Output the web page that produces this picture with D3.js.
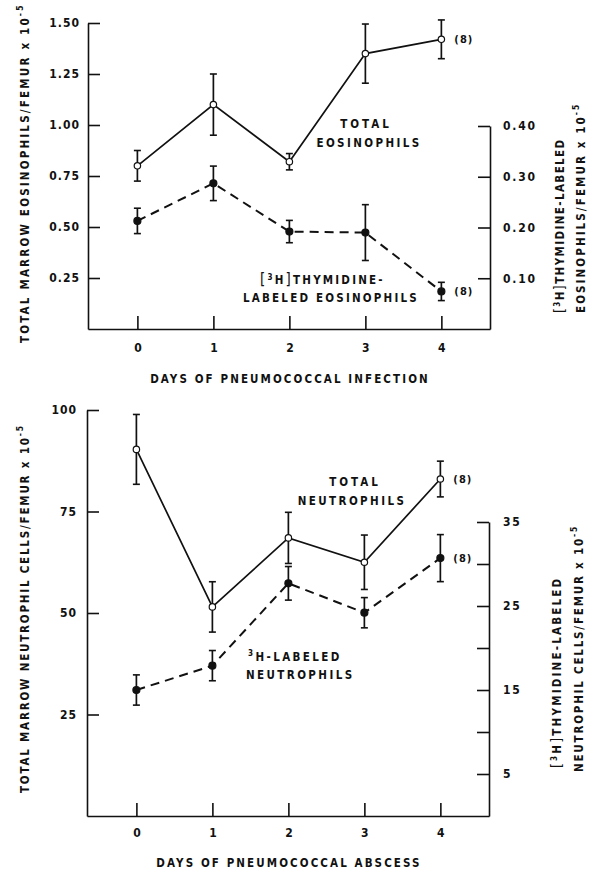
<!DOCTYPE html>
<html>
<head>
<meta charset="utf-8">
<script src="https://cdn.jsdelivr.net/npm/d3@7"></script>
<style>
body{margin:0;background:#fff}
text{font-family:"DejaVu Sans Condensed","DejaVu Sans",sans-serif;fill:#111;font-weight:bold}
.domain,.tick line{stroke:#111;stroke-width:1.6}
</style>
</head>
<body>
<div id="chart"></div>
<script>
var days = [0, 1, 2, 3, 4];

// top panel: eosinophils
var eosTotal = [0.80, 1.10, 0.82, 1.35, 1.42];
var eosTotalErr = [0.075, 0.15, 0.04, 0.145, 0.095];
var eosLabeled = [0.213, 0.287, 0.192, 0.19, 0.074];
var eosLabeledErr = [0.025, 0.034, 0.022, 0.055, 0.018];
var eosLeftTicks = [0.25, 0.50, 0.75, 1.00, 1.25, 1.50];
var eosRightTicks = [0.10, 0.20, 0.30, 0.40];

// bottom panel: neutrophils
var neuTotal = [90.3, 51.5, 68.5, 62.5, 83.0];
var neuTotalErr = [8.6, 6.2, 6.3, 6.7, 4.4];
var neuLabeled = [15.0, 17.9, 27.7, 24.2, 30.7];
var neuLabeledErr = [1.8, 1.8, 2.0, 1.8, 2.8];
var neuLeftTicks = [25, 50, 75, 100];
var neuRightTicks = [5, 10, 15, 20, 25, 30, 35];
var neuRightLabels = [5, 15, 25, 35];

var W = 589, H = 871;
var svg = d3.select("#chart").append("svg").attr("width", W).attr("height", H);

function drawSeries(g, x, y, vals, errs, dashed, open){
  var pts = days.map(function(d, i){ return {d: d, v: vals[i], e: errs[i]}; });
  var line = d3.line().x(function(p){ return x(p.d); }).y(function(p){ return y(p.v); });
  g.append("path").datum(pts)
    .attr("d", line)
    .attr("fill", "none")
    .attr("stroke", "#111")
    .attr("stroke-width", dashed ? 2 : 1.7)
    .attr("stroke-dasharray", dashed ? "9,6" : null);

  var eb = g.selectAll(null).data(pts).enter().append("g");
  eb.append("line")
    .attr("x1", function(p){ return x(p.d); }).attr("x2", function(p){ return x(p.d); })
    .attr("y1", function(p){ return y(p.v - p.e); }).attr("y2", function(p){ return y(p.v + p.e); })
    .attr("stroke", "#111").attr("stroke-width", 1.7);
  [-1, 1].forEach(function(s){
    eb.append("line")
      .attr("x1", function(p){ return x(p.d) - 3.5; }).attr("x2", function(p){ return x(p.d) + 3.5; })
      .attr("y1", function(p){ return y(p.v + s * p.e); }).attr("y2", function(p){ return y(p.v + s * p.e); })
      .attr("stroke", "#111").attr("stroke-width", 1.6);
  });

  g.selectAll(null).data(pts).enter().append("circle")
    .attr("cx", function(p){ return x(p.d); })
    .attr("cy", function(p){ return y(p.v); })
    .attr("r", open ? 3.2 : 3.5)
    .attr("fill", open ? "#fff" : "#111")
    .attr("stroke", "#111")
    .attr("stroke-width", 1.2);
}

// rotated title
function rotTitle(x, y, ls){
  return svg.append("text")
    .attr("transform", "translate(" + x + "," + y + ") rotate(-90)")
    .attr("font-size", 11.5).attr("letter-spacing", ls);
}

function addPow(t, base){
  t.append("tspan").text(base + " x 10");
  t.append("tspan").attr("dy", -6).attr("font-size", 8.5).text("-5");
}

function addBracketH(t, big){
  t.append("tspan").attr("font-size", big).attr("font-weight", "normal").text("[");
  t.append("tspan").attr("font-size", 8).attr("dy", -4).text("3");
  t.append("tspan").attr("dy", 4).text("H");
  t.append("tspan").attr("font-size", big).attr("font-weight", "normal").text("]");
}

function styleTicks(g, ls){
  g.selectAll("text").attr("font-size", 12).attr("fill", "#111")
    .attr("letter-spacing", ls).attr("font-family", "DejaVu Sans Condensed")
    .attr("font-weight", "bold");
}

function drawPanel(c){
  var x = d3.scaleLinear().domain([-0.65, 4.64]).range([c.left, c.right]);
  var yL = d3.scaleLinear().domain([0, c.leftMax]).range([c.bottom, c.top]);
  var yR = d3.scaleLinear().domain([0, c.rightMax]).range([c.bottom, c.rightTop]);

  svg.append("g").attr("transform", "translate(0," + c.bottom + ")")
    .call(d3.axisBottom(x).tickValues(days).tickSizeInner(-13).tickSizeOuter(0)
      .tickPadding(c.xPad).tickFormat(d3.format("d")))
    .call(function(g){ styleTicks(g, 0); });

  svg.append("g").attr("transform", "translate(" + c.left + ",0)")
    .call(d3.axisLeft(yL).tickValues(c.leftTicks).tickSizeInner(-12).tickSizeOuter(0)
      .tickPadding(c.lPad).tickFormat(c.leftFmt))
    .call(function(g){ styleTicks(g, 1); });

  svg.append("g").attr("transform", "translate(" + c.right + ",0)")
    .call(d3.axisRight(yR).tickValues(c.rightTicks).tickSizeInner(-12).tickSizeOuter(0)
      .tickPadding(c.rPad).tickFormat(c.rightFmt))
    .call(function(g){ styleTicks(g, 1.8); });

  var g = svg.append("g");
  drawSeries(g, x, yR, c.labeled, c.labeledErr, true, false);
  drawSeries(g, x, yL, c.total, c.totalErr, false, true);

  // "(8)" notes beside day 4
  svg.append("text").attr("x", x(4) + 13).attr("y", yL(c.total[4]) + 4)
    .attr("font-size", 11).attr("letter-spacing", 1).text("(8)");
  svg.append("text").attr("x", x(4) + 13).attr("y", yR(c.labeled[4]) + 4)
    .attr("font-size", 11).attr("letter-spacing", 1).text("(8)");

  svg.append("text").attr("x", (c.left + c.right) / 2 + 1).attr("y", c.bottom + c.titleDy)
    .attr("text-anchor", "middle").attr("font-size", 11.5).attr("letter-spacing", 2.1)
    .text(c.xTitle);
}

drawPanel({
  left: 88, right: 490, top: 23, bottom: 329, rightTop: 126,
  leftMax: 1.5, rightMax: 0.4,
  leftTicks: eosLeftTicks, rightTicks: eosRightTicks,
  leftFmt: d3.format(".2f"), rightFmt: d3.format(".2f"),
  xPad: 14, lPad: 8, rPad: 13, titleDy: 54,
  total: eosTotal, totalErr: eosTotalErr,
  labeled: eosLabeled, labeledErr: eosLabeledErr,
  xTitle: "DAYS OF PNEUMOCOCCAL INFECTION"
});

drawPanel({
  left: 87, right: 489, top: 410, bottom: 816, rightTop: 522,
  leftMax: 100, rightMax: 35,
  leftTicks: neuLeftTicks, rightTicks: neuRightTicks,
  leftFmt: d3.format("d"),
  rightFmt: function(d){ return neuRightLabels.indexOf(d) >= 0 ? d : ""; },
  xPad: 12, lPad: 10, rPad: 14, titleDy: 51,
  total: neuTotal, totalErr: neuTotalErr,
  labeled: neuLabeled, labeledErr: neuLabeledErr,
  xTitle: "DAYS OF PNEUMOCOCCAL ABSCESS"
});

// series labels, top
svg.append("text").attr("x", 366).attr("y", 128).attr("text-anchor", "middle")
  .attr("font-size", 11.5).attr("letter-spacing", 3).text("TOTAL");
svg.append("text").attr("x", 369).attr("y", 147).attr("text-anchor", "middle")
  .attr("font-size", 11.5).attr("letter-spacing", 2.4).text("EOSINOPHILS");
var t1 = svg.append("text").attr("x", 260).attr("y", 284)
  .attr("font-size", 11.5).attr("letter-spacing", 2.2);
addBracketH(t1, 15);
t1.append("tspan").text("THYMIDINE-");
svg.append("text").attr("x", 243).attr("y", 302)
  .attr("font-size", 11.5).attr("letter-spacing", 2.2).text("LABELED EOSINOPHILS");

// series labels, bottom
svg.append("text").attr("x", 355).attr("y", 486).attr("text-anchor", "middle")
  .attr("font-size", 11.5).attr("letter-spacing", 3).text("TOTAL");
svg.append("text").attr("x", 352).attr("y", 505).attr("text-anchor", "middle")
  .attr("font-size", 11.5).attr("letter-spacing", 2.4).text("NEUTROPHILS");
var t2 = svg.append("text").attr("x", 248).attr("y", 661)
  .attr("font-size", 11.5).attr("letter-spacing", 2.4);
t2.append("tspan").attr("font-size", 8).attr("dy", -5).text("3");
t2.append("tspan").attr("dy", 5).text("H-LABELED");
svg.append("text").attr("x", 246).attr("y", 679)
  .attr("font-size", 11.5).attr("letter-spacing", 2.4).text("NEUTROPHILS");

// axis titles, top
var a1 = rotTitle(29, 343, 2.2);
addPow(a1, "TOTAL MARROW EOSINOPHILS/FEMUR");
var a2 = rotTitle(564, 313, 1.4);
addBracketH(a2, 14);
a2.append("tspan").text("THYMIDINE-LABELED");
var a3 = rotTitle(585, 313, 2.1);
addPow(a3, "EOSINOPHILS/FEMUR");

// axis titles, bottom
var b1 = rotTitle(29, 793, 1.8);
addPow(b1, "TOTAL MARROW NEUTROPHIL  CELLS/FEMUR");
var b2 = rotTitle(561, 768, 2.2);
addBracketH(b2, 14);
b2.append("tspan").text("THYMIDINE-LABELED");
var b3 = rotTitle(583, 772, 1.8);
addPow(b3, "NEUTROPHIL  CELLS/FEMUR");
</script>
</body>
</html>
